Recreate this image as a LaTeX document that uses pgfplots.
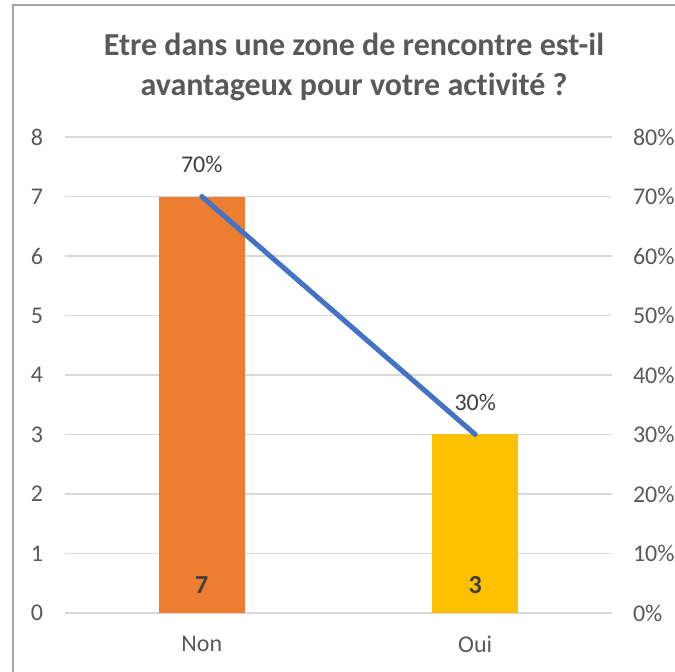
\documentclass[border=0pt]{standalone}
\usepackage{fontspec}
\setmainfont{Carlito}[Ligatures=NoCommon]
\usepackage{pgfplots}
\pgfplotsset{compat=1.18}
\definecolor{cOrange}{HTML}{ED7D31}
\definecolor{cYellow}{HTML}{FFC000}
\definecolor{cBlue}{HTML}{4472C4}
\definecolor{textGray}{HTML}{595959}
\definecolor{darkGray}{HTML}{404040}
\definecolor{gridGray}{HTML}{D9D9D9}
\definecolor{frameGray}{HTML}{A6A6A6}
\pgfplotsset{
  base/.style={
    scale only axis, width=273.5pt, height=238pt,
    xmin=-0.5, xmax=1.5,
    axis line style={draw=none},
    major tick length=0pt, tick style={draw=none},
    /pgf/number format/assume math mode=true,
    ticklabel style={font=\fontsize{12}{14}\selectfont, text=textGray},
  }
}
\begin{document}
\begin{tikzpicture}
\useasboundingbox (-32.5pt,-29.5pt) rectangle (305pt,306.5pt);
\draw[frameGray, line width=1pt] (-26pt,-29.5pt) -- (-26pt,304pt) -- (305pt,304pt);
\node[font=\bfseries\fontsize{16}{20}\selectfont, text=textGray, align=center]
  at (144.5pt,273pt) {Etre dans une zone de rencontre est-il\\avantageux pour votre activité ?};

% primary axis: counts
\begin{axis}[base,
    ymin=0, ymax=8, ytick={0,1,...,8},
    ymajorgrids, grid style={gridGray, line width=0.75pt},
    xtick={0,1}, xticklabels={Non,Oui},
    yticklabel style={xshift=-7.5pt},
    xticklabel style={yshift=-8.2pt},
    axis y line*=left, axis x line*=bottom]
  \addplot[ybar, bar width=43pt, bar shift=0pt, fill=cOrange, draw=none] coordinates {(0,7)};
  \addplot[ybar, bar width=43pt, bar shift=0pt, fill=cYellow, draw=none] coordinates {(1,3)};
  \addplot[draw=none, mark=none, nodes near coords, point meta=explicit symbolic,
    every node near coord/.append style={font=\bfseries\fontsize{13}{15}\selectfont,
      text=darkGray, anchor=center, yshift=14pt}]
    coordinates {(0,0) [7] (1,0) [3]};
\end{axis}

% secondary axis: percentages
\begin{axis}[base,
    ymin=0, ymax=80, ytick={0,10,...,80},
    axis y line*=right, axis x line=none,
    yticklabel={\pgfmathprintnumber{\tick}\%},
    yticklabel style={xshift=7pt}]
  \addplot[cBlue, line width=2.5pt, line cap=round, mark=none,
    nodes near coords, point meta=explicit symbolic,
    every node near coord/.append style={font=\fontsize{12}{14}\selectfont,
      text=darkGray, anchor=center, yshift=16pt}]
    coordinates {(0,70) [70\%] (1,30) [30\%]};
\end{axis}
\end{tikzpicture}
\end{document}
